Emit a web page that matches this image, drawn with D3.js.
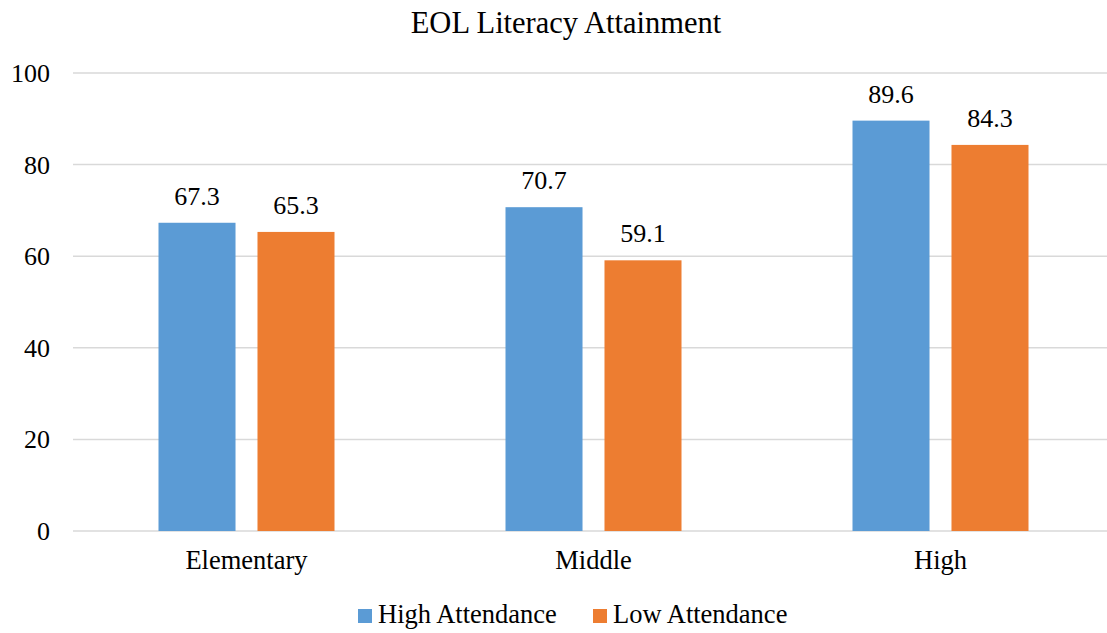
<!DOCTYPE html>
<html>
<head>
<meta charset="utf-8">
<script src="https://cdn.jsdelivr.net/npm/d3@7"></script>
<style>
  body { margin: 0; background: #fff; }
</style>
</head>
<body>
<div id="chart"></div>
<script>
// Data
var categories = ["Elementary", "Middle", "High"];
var seriesNames = ["High Attendance", "Low Attendance"];
var highAttendance = [67.3, 70.7, 89.6];
var lowAttendance = [65.3, 59.1, 84.3];
var yTicks = [0, 20, 40, 60, 80, 100];
var colors = ["#5B9BD5", "#ED7D31"];

var font = "'Liberation Serif', 'Times New Roman', serif";

var W = 1107, H = 633;
var margin = {top: 73, right: -7, bottom: 102, left: 73};
var width = W - margin.left - margin.right,
	height = H - margin.top - margin.bottom;

var svg = d3.select("#chart")
	.append("svg")
	.attr("width", W)
	.attr("height", H);

var g = svg.append("g")
	.attr("transform", "translate(" + margin.left + "," + margin.top + ")");

// Scales
var x0 = d3.scaleBand()
	.domain(categories)
	.range([0, width])
	.paddingInner(0.4928)
	.paddingOuter(0.2464);

var x1 = d3.scaleBand()
	.domain(seriesNames)
	.range([0, x0.bandwidth()])
	.paddingInner(0.222);

var y = d3.scaleLinear()
	.domain([0, 100])
	.range([height, 0]);

// Gridlines
g.append("g")
	.selectAll("line")
	.data(yTicks)
	.enter()
	.append("line")
		.attr("x1", 0)
		.attr("x2", width)
		.attr("y1", function(d) { return y(d); })
		.attr("y2", function(d) { return y(d); })
		.attr("stroke", "#D9D9D9")
		.attr("stroke-width", 1.5);

// Y axis labels
var yAxis = g.append("g")
	.call(d3.axisLeft(y).tickValues(yTicks).tickSize(0).tickPadding(23));
yAxis.select(".domain").remove();
yAxis.selectAll("text")
	.style("font-family", font)
	.style("font-size", "26px")
	.attr("fill", "#000")
	.attr("dy", "0.33em");

// X axis labels
var xAxis = g.append("g")
	.attr("transform", "translate(0," + height + ")")
	.call(d3.axisBottom(x0).tickSize(0));
xAxis.select(".domain").remove();
xAxis.selectAll("text")
	.style("font-family", font)
	.style("font-size", "26.5px")
	.attr("fill", "#000")
	.attr("y", 38)
	.attr("dy", 0);

// Bars
var rows = categories.map(function(c, i) {
	return {cat: c, values: [highAttendance[i], lowAttendance[i]]};
});

var groups = g.selectAll(".cat")
	.data(rows)
	.enter()
	.append("g")
		.attr("class", "cat")
		.attr("transform", function(d) { return "translate(" + x0(d.cat) + ",0)"; });

groups.selectAll("rect")
	.data(function(d) { return d.values.map(function(v, j) { return {name: seriesNames[j], value: v, j: j}; }); })
	.enter()
	.append("rect")
		.attr("x", function(d) { return x1(d.name); })
		.attr("y", function(d) { return y(d.value); })
		.attr("width", x1.bandwidth())
		.attr("height", function(d) { return height - y(d.value); })
		.attr("fill", function(d) { return colors[d.j]; });

// Value labels
groups.selectAll("text.val")
	.data(function(d) { return d.values.map(function(v, j) { return {name: seriesNames[j], value: v}; }); })
	.enter()
	.append("text")
		.attr("class", "val")
		.attr("x", function(d) { return x1(d.name) + x1.bandwidth() / 2; })
		.attr("y", function(d) { return y(d.value) - 18; })
		.attr("text-anchor", "middle")
		.style("font-family", font)
		.style("font-size", "26px")
		.text(function(d) { return d.value.toFixed(1); });

// Title
svg.append("text")
	.attr("x", 566)
	.attr("y", 33)
	.attr("text-anchor", "middle")
	.style("font-family", font)
	.style("font-size", "30.5px")
	.text("EOL Literacy Attainment");

// Legend
var legend = svg.append("g")
	.attr("transform", "translate(358,609)");
var legendX = [0, 235];
seriesNames.forEach(function(s, i) {
	var item = legend.append("g").attr("transform", "translate(" + legendX[i] + ",0)");
	item.append("rect")
		.attr("width", 14)
		.attr("height", 14)
		.attr("fill", colors[i]);
	item.append("text")
		.attr("x", 20)
		.attr("y", 14)
		.style("font-family", font)
		.style("font-size", "26.5px")
		.text(s);
});
</script>
</body>
</html>
